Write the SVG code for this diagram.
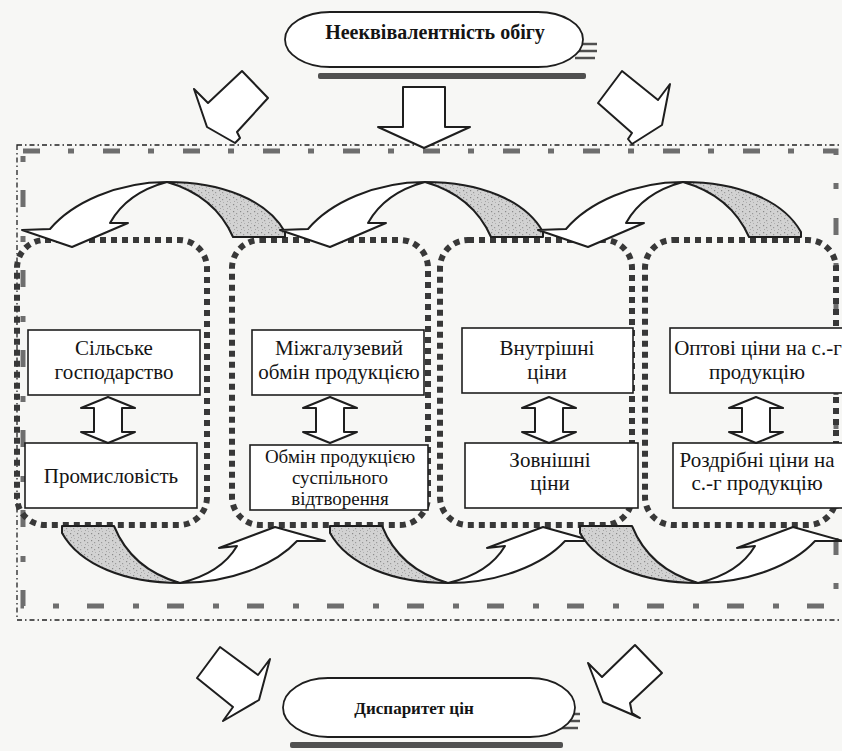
<svg xmlns="http://www.w3.org/2000/svg" width="842" height="751" viewBox="0 0 842 751">
<defs>
<pattern id="stip" width="7" height="7" patternUnits="userSpaceOnUse">
<rect width="7" height="7" fill="#d2d2d2"/>
<rect x="1" y="1" width="1.2" height="1.2" fill="#8a8a8a"/>
<rect x="4" y="3" width="1.2" height="1.2" fill="#9a9a9a"/>
<rect x="2" y="5" width="1" height="1" fill="#a5a5a5"/>
<rect x="5" y="6" width="1" height="1" fill="#b0b0b0"/>
</pattern>
<g id="topArc">
<path class="front" d="M 0,48 L 50,65 L 106,41 L 88,41 C 98,23 115,8 145,0 C 95,0 50,21 28,47 Z"/>
<path class="back" d="M 145,0 C 200,0 245,18 263,50 L 263,55 L 211,55 C 200,30 180,10 145,0 Z"/>
</g>
<g id="botArc">
<path class="back" d="M 118,583 C 63,583 18,565 0,533 L 0,526 L 52,526 C 63,553 83,573 118,583 Z"/>
<path class="front" d="M 263,541 L 213,527 L 157,548 L 175,546 C 165,563 148,576 118,583 C 168,583 213,565 235,541 Z"/>
</g>
<path id="dbl" class="blk" d="M 0,397 L 27,408 L 14,408 L 14,432 L 27,432 L 0,443 L -27,432 L -14,432 L -14,408 L -27,408 Z"/>
</defs>
<style>
.front{fill:#ffffff;stroke:#1e1e1e;stroke-width:2;stroke-linejoin:round}
.back{fill:url(#stip);stroke:#1e1e1e;stroke-width:2;stroke-linejoin:round}
.blk{fill:#ffffff;stroke:#1e1e1e;stroke-width:2;stroke-linejoin:round}
.dots{fill:none;stroke:#383838;stroke-width:6;stroke-dasharray:6 5}
.rect{fill:#ffffff;stroke:#1e1e1e;stroke-width:1.6}
.t{font-family:"Liberation Serif","Times New Roman",serif;font-size:21px;fill:#141414;text-anchor:middle}
.ts{font-family:"Liberation Serif","Times New Roman",serif;font-size:19px;fill:#141414;text-anchor:middle}
.tb{font-family:"Liberation Serif","Times New Roman",serif;font-weight:bold;fill:#141414;text-anchor:middle}
.pill{fill:#ffffff;stroke:#1e1e1e;stroke-width:1.8}
.shadow{fill:#505050}
.shl{stroke:#505050;stroke-width:2.5}
</style>
<rect width="842" height="751" fill="#f7f7f5"/>

<g id="frame">
<rect x="17" y="145" width="840" height="475" fill="none" stroke="#222" stroke-width="1.3" stroke-dasharray="5 3 1.5 3"/>
<rect x="23" y="151" width="813" height="455" fill="none" stroke="#6e6e6e" stroke-width="5" stroke-dasharray="17 28 6 29"/>
</g>

<g id="source">
<rect class="shadow" x="318" y="73" width="268" height="6" rx="2"/>
<line class="shl" x1="580" y1="44" x2="597" y2="44"/>
<line class="shl" x1="578" y1="51" x2="597" y2="51"/>
<line class="shl" x1="575" y1="58" x2="595" y2="58"/>
<rect class="pill" x="285" y="12" width="298" height="55" rx="45" ry="27.5"/>
<text class="tb" x="435" y="39" font-size="20">Нееквівалентність обігу</text>
</g>

<g id="result">
<rect class="shadow" x="290" y="742" width="273" height="6" rx="2"/>
<line class="shl" x1="560" y1="714" x2="580" y2="714"/>
<line class="shl" x1="558" y1="721" x2="580" y2="721"/>
<line class="shl" x1="555" y1="728" x2="578" y2="728"/>
<rect class="pill" x="283" y="678" width="292" height="59" rx="45" ry="29.5"/>
<text class="tb" x="414" y="714" font-size="17">Диспаритет цін</text>
</g>

<g id="box1">
<rect class="dots" x="17" y="240" width="190" height="285" rx="28"/>
<rect class="rect" x="28" y="330" width="172" height="65"/>
<text class="t" x="114" y="355">Сільське</text>
<text class="t" x="114" y="379">господарство</text>
<rect class="rect" x="25" y="443" width="172" height="65"/>
<text class="t" x="111" y="483">Промисловість</text>
<use href="#dbl" x="108" y="0"/>
</g>

<g id="box2">
<rect class="dots" x="232" y="240" width="196" height="285" rx="28"/>
<rect class="rect" x="252" y="330" width="172" height="65"/>
<text class="t" x="339" y="355">Міжгалузевий</text>
<text class="t" x="339" y="379">обмін продукцією</text>
<rect class="rect" x="250" y="445" width="178" height="65"/>
<text class="ts" x="340" y="463">Обмін продукцією</text>
<text class="ts" x="340" y="484">суспільного</text>
<text class="ts" x="340" y="505">відтворення</text>
<use href="#dbl" x="330" y="0"/>
</g>

<g id="box3">
<rect class="dots" x="440" y="240" width="192" height="285" rx="28"/>
<rect class="rect" x="462" y="328" width="171" height="65"/>
<text class="t" x="547" y="355">Внутрішні</text>
<text class="t" x="547" y="379">ціни</text>
<rect class="rect" x="465" y="443" width="173" height="65"/>
<text class="t" x="550" y="467">Зовнішні</text>
<text class="t" x="550" y="490">ціни</text>
<use href="#dbl" x="549" y="0"/>
</g>

<g id="box4">
<rect class="dots" x="645" y="240" width="191" height="285" rx="28"/>
<rect class="rect" x="670" y="328" width="180" height="65"/>
<text class="t" x="758" y="355">Оптові ціни на с.-г</text>
<text class="t" x="757" y="379">продукцію</text>
<rect class="rect" x="673" y="443" width="180" height="65"/>
<text class="t" x="757" y="467">Роздрібні ціни на</text>
<text class="t" x="757" y="490">с.-г продукцію</text>
<use href="#dbl" x="756" y="0"/>
</g>

<g id="connectors">
<polygon class="blk" points="242,71 268,98 237,132 240,138 235,143 207,127 194,89 208,103"/>
<polygon class="blk" points="403,87 445,87 445,127 470,127 424,148 378,127 403,127"/>
<polygon class="blk" points="622,71 658,100 670,84 662,125 632,144 628,139 632,133 598,103"/>
<use href="#topArc" transform="translate(22,182)"/>
<use href="#topArc" transform="translate(280,182)"/>
<use href="#topArc" transform="translate(538,182)"/>
<use href="#botArc" transform="translate(62,0)"/>
<use href="#botArc" transform="translate(330,0)"/>
<use href="#botArc" transform="translate(580,0)"/>
<polygon class="blk" points="220,647 258,675 270,659 259,700 223,721 233,707 197,678"/>
<polygon class="blk" points="635,645 662,673 630,703 632,713 640,718 603,702 588,663 602,677"/>
</g>
</svg>
